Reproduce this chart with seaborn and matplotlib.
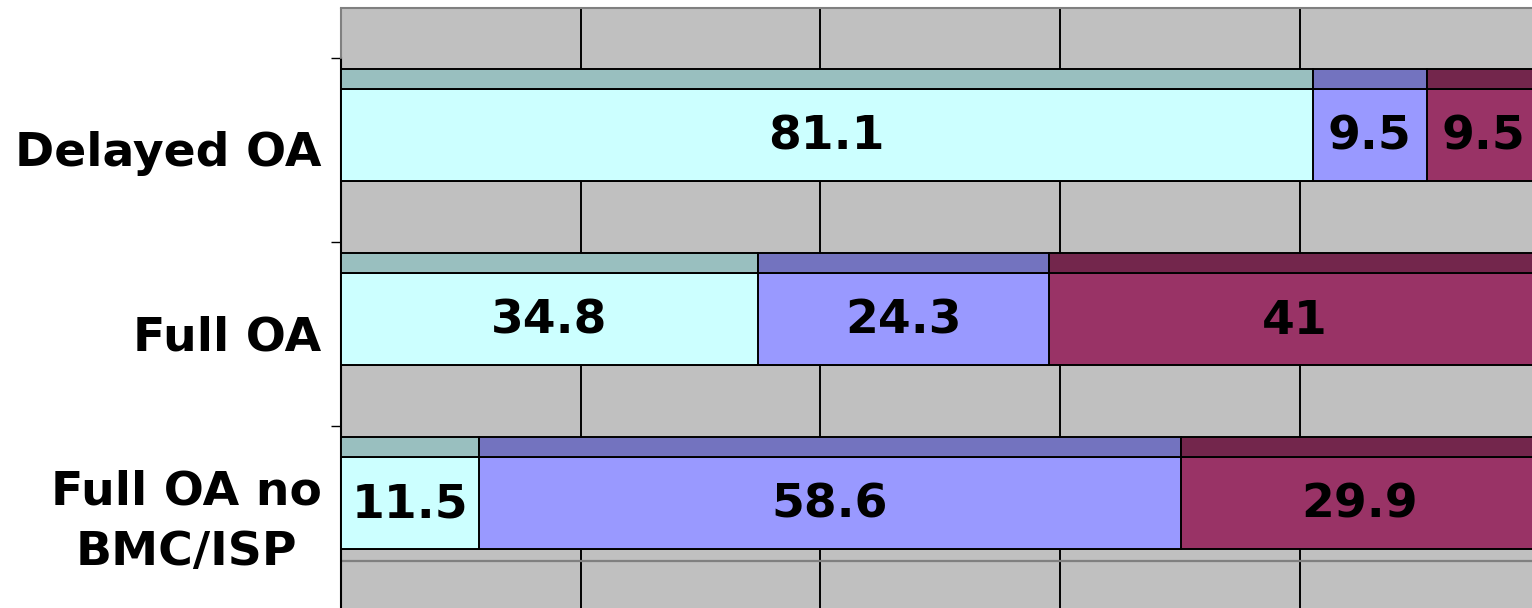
import matplotlib
matplotlib.use("Agg")
import matplotlib.pyplot as plt
import numpy as np
import pandas as pd
import seaborn as sns

# --- data -------------------------------------------------------------
categories = ["Delayed OA", "Full OA", "Full OA no\nBMC/ISP"]
seg1 = [81.1, 34.8, 11.5]
seg2 = [9.5, 24.3, 58.6]
seg3 = [9.5, 41.0, 29.9]
seg_names = ["seg1", "seg2", "seg3"]

front_colors = {"seg1": "#CCFFFF", "seg2": "#9999FF", "seg3": "#993366"}
top_colors = {"seg1": "#99BFBF", "seg2": "#7373BF", "seg3": "#73264C"}

segments = {"seg1": seg1, "seg2": seg2, "seg3": seg3}
starts = {}
ends = {}
run = np.zeros(len(categories))
for name in seg_names:
    vals = np.array(segments[name], dtype=float)
    starts[name] = run.copy()
    run = run + vals
    ends[name] = run.copy()

rows = []
for name in seg_names:
    for cat, end in zip(categories, ends[name]):
        rows.append({"category": cat, "segment": name, "end": end})
df = pd.DataFrame(rows)

# --- figure -----------------------------------------------------------
sns.set_theme(style="white")
plt.rcParams["font.family"] = ["DejaVu Sans"]
FS = 34

fig = plt.figure(figsize=(15.32, 6.08), dpi=100)
ax = fig.add_axes([341 / 1532, 0.0, 1 - 341 / 1532, 1 - 8 / 608])
ax.set_facecolor("#C0C0C0")

BAR_H = 0.5
DEPTH = 0.106
EDGE_LW = 1.4

# front faces: cumulative bars, longest first so shorter ones sit on top
sns.barplot(
    data=df, x="end", y="category", hue="segment",
    hue_order=seg_names[::-1], order=categories,
    palette=front_colors, dodge=False, width=BAR_H,
    edgecolor="black", linewidth=EDGE_LW, orient="h",
    errorbar=None, legend=False, saturation=1, ax=ax, zorder=3,
)

# top faces of the 3-D bars
ypos = np.arange(len(categories))
for name in seg_names:
    ax.barh(
        ypos - BAR_H / 2 - DEPTH / 2, np.array(segments[name]),
        left=starts[name], height=DEPTH, color=top_colors[name],
        edgecolor="black", linewidth=EDGE_LW, zorder=3,
    )

# value labels on the front faces
for name in seg_names:
    vals = segments[name]
    for i, v in enumerate(vals):
        cx = starts[name][i] + v / 2
        ax.text(cx, i + 0.015, f"{v:g}", ha="center", va="center",
                fontsize=FS, fontweight="bold", color="black", zorder=5)

# axes limits
ax.set_xlim(0, 99.4)
ax.set_ylim(2.573, -0.6875)

# vertical gridlines on the back wall
ax.set_xticks([20, 40, 60, 80])
ax.tick_params(axis="x", length=0, labelbottom=False)
ax.grid(axis="x", color="black", linewidth=1.4, zorder=1)
ax.grid(axis="y", visible=False)
ax.set_axisbelow(True)
ax.set_xlabel("")
ax.set_ylabel("")

# floor edge of the back wall
ax.axhline(2.318, color="#808080", linewidth=1.6, zorder=2)

# category labels centred in their bands, tick marks on the band borders
LABEL_SHIFT = 0.105
ax.set_yticks(ypos + LABEL_SHIFT)
ax.set_yticklabels(categories, fontsize=FS, fontweight="bold",
                   multialignment="center", linespacing=1.45,
                   color="black")
for lab in ax.get_yticklabels():
    lab.set_verticalalignment("center")
ax.tick_params(axis="y", which="major", length=0, pad=14)
ax.set_yticks(ypos - 0.415, minor=True)
ax.tick_params(axis="y", which="minor", length=7.5, width=1.0,
               color="black", direction="out", left=True)

# frame
for side in ["right", "bottom"]:
    ax.spines[side].set_visible(False)
ax.spines["top"].set_color("#808080")
ax.spines["top"].set_linewidth(1.5)
ax.spines["left"].set_color("black")
ax.spines["left"].set_linewidth(1.5)
ax.spines["left"].set_bounds(-0.415, 2.573)
ax.plot([0, 0], [-0.6875, -0.415], color="#808080", linewidth=1.5,
        clip_on=False, zorder=4)

fig.savefig("out.png", dpi=100)
